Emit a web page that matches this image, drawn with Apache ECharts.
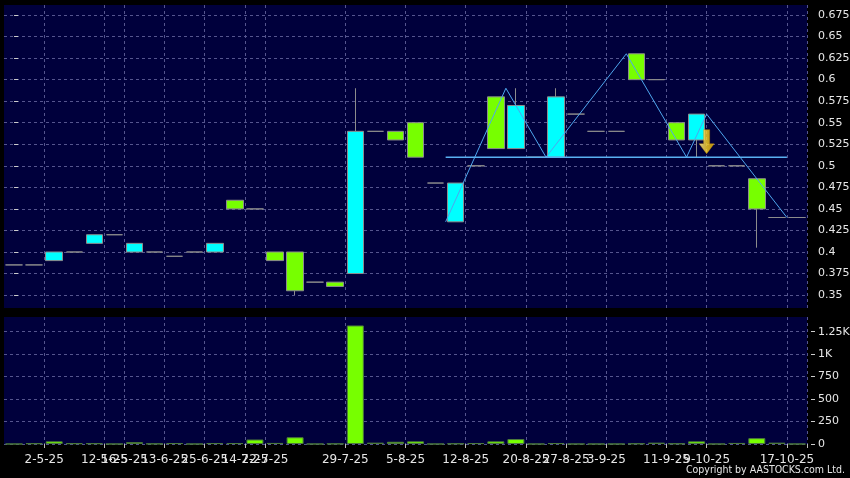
<!DOCTYPE html>
<html>
<head>
<meta charset="utf-8">
<script src="https://cdn.jsdelivr.net/npm/echarts@6/dist/echarts.min.js"></script>
<style>
  html, body { margin: 0; padding: 0; background: #000; }
  #main { width: 850px; height: 478px; }
</style>
</head>
<body>
<div id="main"></div>
<script>
// day slots (40 trading days shown), only some get a date label
var days = [];
for (var d = 0; d < 40; d++) days.push(String(d));
var tickIdx = [2, 5, 6, 8, 10, 12, 13, 17, 20, 23, 26, 28, 30, 33, 35, 39];
var tickText = ['2-5-25', '12-5-25', '16-5-25', '13-6-25', '25-6-25', '14-7-25', '22-7-25',
  '29-7-25', '5-8-25', '12-8-25', '20-8-25', '27-8-25', '3-9-25', '11-9-25', '9-10-25', '17-10-25'];

// prices
var openP  = [0.385,0.385,0.39,0.40,0.41,0.42,0.40,0.40,0.395,0.40,0.40,0.46,0.45,0.40,0.40,0.365,0.365,0.375,0.54,0.54,
              0.55,0.48,0.435,0.50,0.58,0.52,0.51,0.51,0.56,0.54,0.54,0.63,0.60,0.55,0.53,0.50,0.50,0.485,0.44,0.44];
var closeP = [0.385,0.385,0.40,0.40,0.42,0.42,0.41,0.40,0.395,0.40,0.41,0.45,0.45,0.39,0.355,0.365,0.36,0.54,0.54,0.53,
              0.51,0.48,0.48,0.50,0.52,0.57,0.51,0.58,0.56,0.54,0.54,0.60,0.60,0.53,0.56,0.50,0.50,0.45,0.44,0.44];
var lowP   = [0.385,0.385,0.39,0.40,0.41,0.42,0.40,0.40,0.395,0.40,0.40,0.45,0.45,0.39,0.35,0.365,0.36,0.375,0.54,0.53,
              0.51,0.48,0.435,0.50,0.52,0.52,0.51,0.51,0.56,0.54,0.54,0.60,0.60,0.53,0.51,0.50,0.50,0.405,0.44,0.44];
var highP  = [0.385,0.385,0.40,0.40,0.42,0.42,0.41,0.40,0.395,0.40,0.41,0.46,0.45,0.40,0.40,0.365,0.365,0.59,0.54,0.54,
              0.55,0.48,0.48,0.50,0.58,0.59,0.51,0.59,0.56,0.54,0.54,0.63,0.60,0.55,0.56,0.50,0.50,0.485,0.44,0.44];
var volume = [0,8,30,8,8,0,20,3,10,0,10,10,50,12,75,0,3,1320,15,25,
              30,0,5,10,30,55,0,10,0,0,0,5,15,5,30,0,12,65,15,0];

// price scale ticks
var priceTicks = [0.35,0.375,0.4,0.425,0.45,0.475,0.5,0.525,0.55,0.575,0.6,0.625,0.65,0.675];
var volTicks = [0, 250, 500, 750, 1000, 1250];

// pattern lines (x in slot units, boundary = k - 0.5)
var zigzag = [[21.5,0.435],[24.5,0.59],[26.5,0.51],[30.5,0.63],[33.5,0.51],[34.5,0.56],[38.5,0.44]];
var neckline = [[21.5,0.51],[38.5,0.51]];
var arrowPt = [[34.5,0.528]];

var candles = [];
for (var i = 0; i < days.length; i++) {
  candles.push([openP[i], closeP[i], lowP[i], highP[i]]);
}

var gridLine = { show: true, lineStyle: { color: '#55558e', type: [3, 3], width: 1 } };
var txt = { color: '#e6e6e6', fontFamily: 'DejaVu Sans', fontSize: 11 };
var showTick = function (idx) { return tickIdx.indexOf(idx) >= 0; };

var myChart = echarts.init(document.getElementById('main'));
var option = {
  animation: false,
  backgroundColor: '#000',
  grid: [
    { left: 4, right: 43, top: 5, height: 303, outerBoundsMode: 'none', containLabel: false,
      show: true, backgroundColor: '#00003c', borderWidth: 0 },
    { left: 4, right: 43, top: 317, height: 127, outerBoundsMode: 'none', containLabel: false,
      show: true, backgroundColor: '#00003c', borderWidth: 0 }
  ],
  xAxis: [
    {
      type: 'category', gridIndex: 0, data: days, boundaryGap: true,
      axisLine: { show: false }, axisTick: { show: false, interval: showTick },
      axisLabel: { show: false, interval: showTick },
      splitLine: Object.assign({ interval: showTick }, gridLine)
    },
    {
      type: 'category', gridIndex: 1, data: days, boundaryGap: true,
      axisLine: { show: false },
      axisTick: { show: true, interval: showTick, length: 4, lineStyle: { color: '#bbbbbb' } },
      axisLabel: Object.assign({}, txt, {
        fontSize: 12, interval: showTick, margin: 10, padding: [0, 20, 0, 0],
        formatter: function (v, idx) { var k = tickIdx.indexOf(idx); return k >= 0 ? tickText[k] : ''; }
      }),
      splitLine: Object.assign({ interval: showTick }, gridLine)
    },
    { type: 'value', gridIndex: 0, min: -0.5, max: 39.5, show: false }
  ],
  yAxis: [
    {
      type: 'value', gridIndex: 0, position: 'right', min: 0.335, max: 0.6866, offset: 4,
      axisLine: { show: false },
      axisTick: { show: true, length: 4, customValues: priceTicks, lineStyle: { color: '#cccccc' } },
      axisLabel: Object.assign({ customValues: priceTicks, margin: 7 }, txt),
      splitLine: gridLine
    },
    {
      type: 'value', gridIndex: 1, position: 'right', min: 0, max: 1414, offset: 4,
      axisLine: { show: false },
      axisTick: { show: true, length: 4, customValues: volTicks, lineStyle: { color: '#cccccc' } },
      axisLabel: Object.assign({
        customValues: volTicks, margin: 7,
        formatter: function (v) { return v >= 1000 ? (v / 1000) + 'K' : String(v); }
      }, txt),
      splitLine: gridLine
    }
  ],
  series: [
    {
      type: 'candlestick', xAxisIndex: 0, yAxisIndex: 0, data: candles, barWidth: 17,
      itemStyle: {
        color: '#00ffff', color0: '#77ff00',
        borderColor: '#8c8c8c', borderColor0: '#8c8c8c', borderColorDoji: '#8c8c8c', borderWidth: 1
      }
    },
    {
      type: 'bar', xAxisIndex: 1, yAxisIndex: 1, data: volume, barWidth: 17,
      itemStyle: { color: '#77ff00', borderColor: '#4c7a3c', borderWidth: 1 }
    },
    {
      type: 'line', xAxisIndex: 2, yAxisIndex: 0, data: zigzag, symbol: 'none', z: 5,
      lineStyle: { color: '#4ea6ee', width: 1 }
    },
    {
      type: 'line', xAxisIndex: 2, yAxisIndex: 0, data: neckline, symbol: 'none', z: 5,
      lineStyle: { color: '#5ab0f2', width: 1.5 }
    },
    {
      type: 'scatter', xAxisIndex: 2, yAxisIndex: 0, data: arrowPt, z: 6,
      symbol: 'path://M3,0 L7,0 L7,10 L10,10 L5,17 L0,10 L3,10 Z', symbolSize: [15, 24],
      itemStyle: {
        color: new echarts.graphic.LinearGradient(0, 0, 1, 0, [
          { offset: 0, color: '#fff4a8' }, { offset: 0.5, color: '#ffd724' }, { offset: 1, color: '#e8b000' }
        ]),
        borderColor: '#c89000', borderWidth: 0.5
      }
    }
  ],
  graphic: [
    {
      type: 'text', right: 5, bottom: 2,
      style: { text: 'Copyright by AASTOCKS.com Ltd.', fill: '#e6e6e6', font: '10.5px "DejaVu Sans Condensed", "DejaVu Sans"' }
    }
  ]
};
myChart.setOption(option);
</script>
</body>
</html>
